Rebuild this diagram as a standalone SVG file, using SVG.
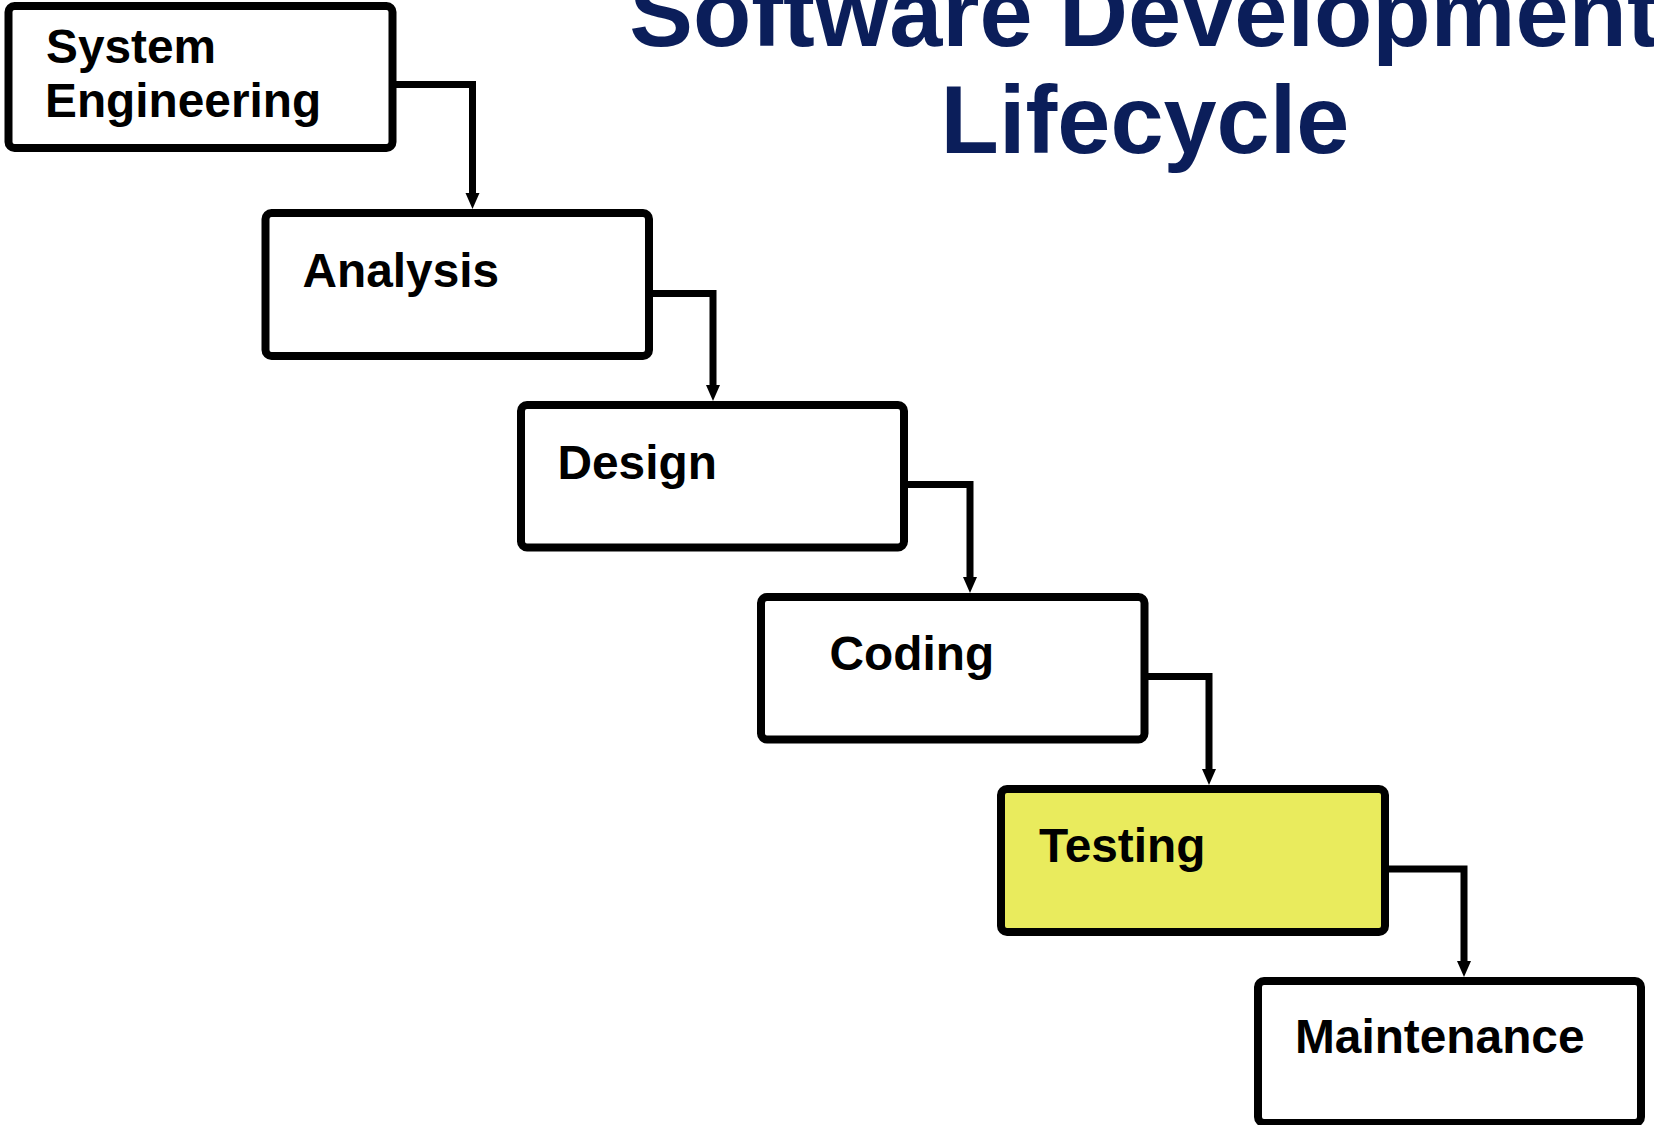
<svg xmlns="http://www.w3.org/2000/svg" width="1654" height="1125" viewBox="0 0 1654 1125">
<style>
.box{fill:#ffffff;stroke:#000000;stroke-width:8}
.hl{fill:#E9EB5D}
.lbl{font-family:"Liberation Sans",Arial,sans-serif;font-weight:bold;font-size:47.8px;fill:#000000}
.title{font-family:"Liberation Sans",Arial,sans-serif;font-weight:bold;font-size:95.5px;fill:#0B1E5A;text-anchor:middle}
.conn{fill:none;stroke:#000000;stroke-width:7;stroke-linejoin:miter}
</style>
<rect width="1654" height="1125" fill="#ffffff"/>
<g id="title">
<text class="title" x="1144" y="46">Software Development</text>
<text class="title" x="1145" y="153">Lifecycle</text>
</g>
<g id="connectors">
<path class="conn" d="M396,84.5 H472.5 V193"/>
<path d="M465.5,193 L479.5,193 L472.5,209 Z"/>
<path class="conn" d="M653,293.5 H713 V385"/>
<path d="M706,385 L720,385 L713,401 Z"/>
<path class="conn" d="M908,484.5 H970 V577"/>
<path d="M963,577 L977,577 L970,593 Z"/>
<path class="conn" d="M1148,676.5 H1209 V769"/>
<path d="M1202,769 L1216,769 L1209,785 Z"/>
<path class="conn" d="M1389,869 H1464 V961"/>
<path d="M1457,961 L1471,961 L1464,977 Z"/>
</g>
<g id="system-engineering">
<rect class="box" x="8.5" y="6" width="384" height="142" rx="6"/>
<text class="lbl" x="46" y="63">System</text>
<text class="lbl" x="45" y="117">Engineering</text>
</g>
<g id="analysis">
<rect class="box" x="265.5" y="213" width="383.5" height="143" rx="6"/>
<text class="lbl" x="302.5" y="286.5">Analysis</text>
</g>
<g id="design">
<rect class="box" x="521" y="405" width="383" height="142.5" rx="6"/>
<text class="lbl" x="557.5" y="478.5">Design</text>
</g>
<g id="coding">
<rect class="box" x="761" y="597" width="383.5" height="142.5" rx="6"/>
<text class="lbl" x="829.5" y="669.5">Coding</text>
</g>
<g id="testing">
<rect class="box hl" x="1001" y="789" width="384" height="143" rx="6"/>
<text class="lbl" x="1039" y="861.5">Testing</text>
</g>
<g id="maintenance">
<rect class="box" x="1258" y="981" width="383" height="142" rx="6"/>
<text class="lbl" x="1295" y="1052.5">Maintenance</text>
</g>
</svg>
